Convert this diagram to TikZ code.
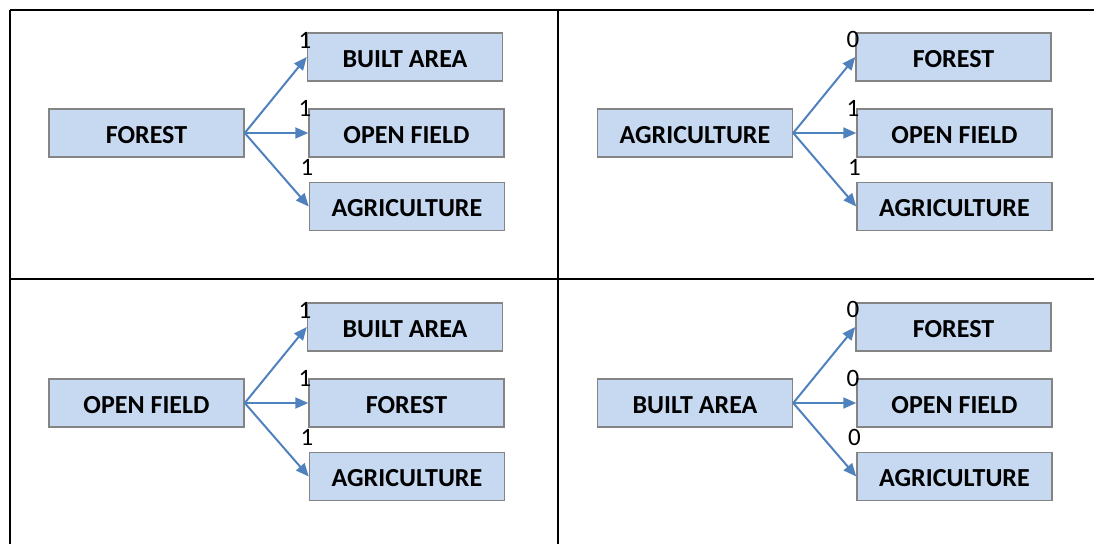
\documentclass[tikz,border=0pt]{standalone}
\usepackage{fontspec}
\setmainfont{Carlito}
\usetikzlibrary{arrows.meta}
\definecolor{boxfill}{HTML}{C6D9F1}
\definecolor{boxline}{HTML}{848484}
\definecolor{arrowblue}{HTML}{4F81BD}
\tikzset{
  cls/.style={draw=boxline, line width=1.5pt, fill=boxfill, minimum width=195pt,
    minimum height=48pt, inner sep=0pt, text height=20.5pt, text depth=0pt,
    font=\fontsize{26}{28}\selectfont\bfseries},
  flow/.style={draw=arrowblue, line width=2pt, -{Triangle[length=13pt,width=11pt]}},
  val/.style={inner sep=0pt, font=\fontsize{25}{27}\selectfont},
  grid/.style={draw=black, line width=2pt}
}
\begin{document}
\begin{tikzpicture}[x=1pt,y=-1pt]
\useasboundingbox (0,0) rectangle (1094,544);
% table rules
\draw[grid] (10,9.5) -- (1094,9.5);
\draw[grid] (10,279) -- (1094,279);
\draw[grid] (10,9.5) -- (10,544);
\draw[grid] (558,9.5) -- (558,544);

% top left: forest
\node[cls] (s1) at (146.5,133) {FOREST};
\node[cls] (a1) at (405,57) {BUILT AREA};
\node[cls] (b1) at (406.5,133) {OPEN FIELD};
\node[cls] (c1) at (407,206.5) {AGRICULTURE};
\draw[flow] (s1.east) -- (a1.west);
\draw[flow] (s1.east) -- (b1.west);
\draw[flow] (s1.east) -- (c1.west);
\node[val] (va1) at (305,40) {1};
\node[val] (vb1) at (305,108.5) {1};
\node[val] (vc1) at (307,167) {1};

% top right: agriculture
\node[cls] (s2) at (695,133) {AGRICULTURE};
\node[cls] (a2) at (953.5,57) {FOREST};
\node[cls] (b2) at (954.5,133) {OPEN FIELD};
\node[cls] (c2) at (954.5,206.5) {AGRICULTURE};
\draw[flow] (s2.east) -- (a2.west);
\draw[flow] (s2.east) -- (b2.west);
\draw[flow] (s2.east) -- (c2.west);
\node[val] (va2) at (853,39.7) {0};
\node[val] (vb2) at (853,108.5) {1};
\node[val] (vc2) at (854.5,167) {1};

% bottom left: open field
\node[cls] (s3) at (146.5,403) {OPEN FIELD};
\node[cls] (a3) at (405,327) {BUILT AREA};
\node[cls] (b3) at (406.5,403) {FOREST};
\node[cls] (c3) at (407,476.5) {AGRICULTURE};
\draw[flow] (s3.east) -- (a3.west);
\draw[flow] (s3.east) -- (b3.west);
\draw[flow] (s3.east) -- (c3.west);
\node[val] (va3) at (305,310) {1};
\node[val] (vb3) at (305,378.5) {1};
\node[val] (vc3) at (307,437) {1};

% bottom right: built area
\node[cls] (s4) at (695,403) {BUILT AREA};
\node[cls] (a4) at (953.5,327) {FOREST};
\node[cls] (b4) at (954.5,403) {OPEN FIELD};
\node[cls] (c4) at (954.5,476.5) {AGRICULTURE};
\draw[flow] (s4.east) -- (a4.west);
\draw[flow] (s4.east) -- (b4.west);
\draw[flow] (s4.east) -- (c4.west);
\node[val] (va4) at (853,309.7) {0};
\node[val] (vb4) at (853,378.5) {0};
\node[val] (vc4) at (854.5,437) {0};
\end{tikzpicture}
\end{document}
